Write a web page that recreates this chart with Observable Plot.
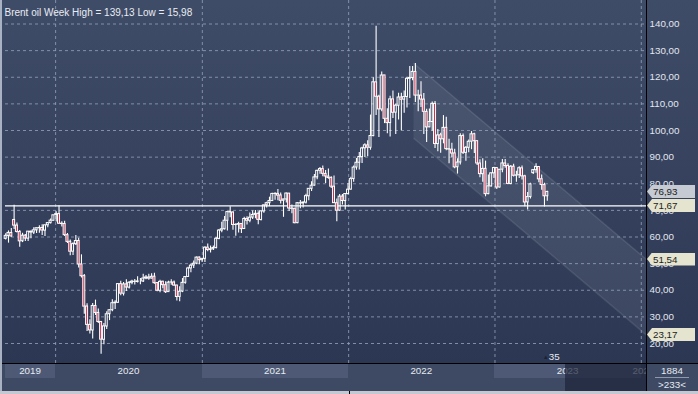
<!DOCTYPE html>
<html>
<head>
<meta charset="utf-8">
<script src="https://cdn.jsdelivr.net/npm/d3@7"></script>
<script src="https://cdn.jsdelivr.net/npm/@observablehq/plot@0.6"></script>
<style>
  html, body { margin:0; padding:0; background:#2b3651; }
  #chart { position:relative; width:698px; height:394px; overflow:hidden;
    background:linear-gradient(to bottom,#3f4c68 0%,#2c3753 92%);
    font-family:"Liberation Sans", Arial, sans-serif; }
  #chart svg { position:absolute; left:0; top:0; }
  .abs { position:absolute; box-sizing:border-box; white-space:nowrap; }
</style>
</head>
<body>
<div id="chart"></div>
<script>
// ---------- data ----------
const title = "Brent oil Week High = 139,13 Low = 15,98";
const firstWeek = "2019-08-26";
const lastWeekEnd = "2023-05-09";

const open = [
59.3,60.4,61.5,66.4,64.3,61.9,58.4,60.5,59.4,62.0,
61.7,62.5,63.3,63.4,62.4,64.4,65.2,66.1,68.2,68.6,
65.0,64.9,60.7,58.2,54.5,57.3,58.5,49.7,45.3,33.9,
27.0,24.9,34.1,31.5,28.1,21.4,26.4,31.0,32.5,35.1,
35.3,42.3,38.7,42.2,41.0,42.8,43.2,43.1,43.3,43.3,
44.4,44.8,44.4,45.1,42.7,39.8,43.2,41.9,39.3,42.9,
42.9,41.8,37.5,39.5,42.8,45.0,48.2,49.3,50.0,52.3,
51.3,51.8,56.0,55.1,55.4,55.9,59.3,62.4,62.9,66.1,
69.4,69.2,64.5,64.6,64.9,63.0,66.8,66.1,67.3,68.3,
68.7,66.4,69.6,71.9,72.7,73.5,76.2,76.2,75.6,73.6,
74.1,76.3,70.7,70.6,65.2,72.7,72.6,72.9,75.3,78.1,
79.3,82.4,84.9,85.5,83.7,82.7,82.2,78.9,72.7,69.9,
75.2,73.5,76.1,77.8,81.8,86.1,87.9,90.0,93.3,94.4,
93.5,97.9,118.1,112.7,107.9,120.7,104.4,102.8,111.7,106.7,
109.3,112.4,111.6,112.6,119.4,119.7,122.0,113.1,113.1,111.6,
107.0,101.2,103.2,110.0,94.9,98.2,96.7,101.0,93.0,92.8,
91.4,86.2,88.0,97.9,91.6,93.5,95.8,98.6,96.0,87.6,
83.6,85.6,76.1,79.0,83.9,85.9,78.6,85.3,87.6,86.7,
79.9,86.4,83.0,83.2,85.8,82.8,73.0,75.0,84.0,85.1,
86.3,81.7,79.5,75.3];

const high = [
61.2,62.3,63.2,71.95,65.3,62.4,61.4,60.9,62.1,62.3,
63.5,63.4,64.2,64.6,64.5,65.4,66.8,68.2,69.5,71.75,
65.7,65.9,61.3,58.9,57.8,60.6,59.5,53.3,45.9,34.9,
28.9,35.0,36.3,33.0,28.2,27.5,31.9,32.7,36.4,36.1,
42.4,43.4,42.9,43.9,43.3,43.8,44.0,45.1,44.4,46.0,
45.5,46.0,46.2,46.4,42.9,43.8,43.4,43.2,43.4,43.9,
43.5,41.8,41.3,44.4,45.2,48.6,49.9,51.0,52.5,52.5,
51.9,56.3,57.4,56.6,56.6,59.8,62.8,65.5,67.7,69.6,
71.38,69.5,65.0,65.5,64.9,67.4,67.6,69.0,69.8,70.0,
69.5,69.9,72.0,73.1,74.96,76.4,76.6,77.8,76.5,74.2,
76.5,76.3,72.0,70.8,72.9,73.7,73.2,76.1,78.2,80.75,
83.5,85.1,86.1,86.7,85.0,85.5,82.6,82.9,74.3,76.0,
76.0,76.3,80.1,82.4,86.7,89.5,91.7,93.7,95.0,96.2,
105.8,119.8,139.13,113.2,122.0,120.7,108.2,112.9,114.8,109.9,
114.0,114.0,114.8,120.0,124.0,124.0,125.2,115.1,118.3,113.9,
108.0,108.1,110.7,110.9,100.4,99.0,105.6,105.0,96.7,95.2,
93.0,89.4,98.8,98.7,94.0,96.4,99.6,99.0,96.1,89.0,
89.4,88.5,83.3,84.1,86.2,86.0,85.4,89.1,89.1,87.5,
86.9,87.3,84.7,86.4,86.7,83.2,76.7,80.2,85.4,87.49,
86.3,83.3,80.2,77.2];

const low = [
58.9,57.7,59.9,62.8,61.5,56.15,57.9,58.3,58.3,59.3,
60.9,61.3,61.4,60.6,60.2,63.5,64.9,66.0,65.6,64.8,
63.8,60.2,57.6,53.0,53.1,56.8,48.4,44.6,31.0,24.5,
23.6,21.65,30.5,27.5,15.98,19.5,25.3,28.6,31.9,32.8,
35.0,37.9,37.8,39.5,40.5,42.1,42.0,42.7,42.1,42.9,
43.9,43.8,44.2,42.3,39.4,39.1,40.6,38.8,39.3,41.9,
41.5,36.0,35.7,39.1,42.3,45.0,46.6,48.2,49.6,49.6,
50.4,50.4,54.5,54.0,54.9,55.5,59.0,61.6,62.6,62.3,
67.2,62.5,60.3,61.5,61.3,62.8,64.5,65.4,66.6,66.9,
64.6,66.0,68.9,70.9,71.4,73.4,73.8,73.6,72.4,67.4,
72.8,69.6,68.7,65.0,65.0,70.6,70.9,72.4,73.6,77.1,
79.2,81.5,83.6,82.6,80.1,81.7,78.2,72.6,65.72,69.6,
72.0,70.1,75.9,77.7,80.6,85.1,85.2,87.6,89.9,90.1,
92.6,97.7,105.6,97.4,107.0,102.6,98.8,97.6,104.5,98.5,
103.9,99.9,106.5,108.5,112.0,118.7,110.5,107.0,108.6,98.5,
95.5,101.0,99.7,93.2,92.0,91.5,95.0,92.4,87.5,89.8,
85.6,83.65,87.0,91.0,88.5,91.6,92.8,91.4,86.9,82.3,
80.6,75.1,75.9,78.8,82.0,77.8,78.4,84.1,85.8,79.6,
79.6,82.5,80.6,82.0,81.4,71.4,70.12,74.3,83.5,83.9,
80.4,77.6,71.28,73.4];

const close = [
60.43,61.54,60.22,64.28,61.91,58.37,60.51,59.42,62.02,61.69,
62.51,63.30,63.39,62.43,64.39,65.22,66.14,68.16,68.60,64.98,
64.85,60.69,58.16,54.47,57.32,58.50,49.67,45.27,33.85,26.98,
24.93,34.11,31.48,28.08,21.44,26.44,30.97,32.50,35.13,35.33,
42.30,38.73,42.19,41.02,42.80,43.24,43.14,43.34,43.30,44.40,
44.80,44.35,45.05,42.66,39.83,43.15,41.92,39.27,42.85,42.93,
41.77,37.46,39.45,42.78,44.96,48.18,49.25,49.97,52.26,51.29,
51.80,55.99,55.10,55.41,55.88,59.34,62.43,62.91,66.13,69.36,
69.22,64.53,64.57,64.86,62.95,66.77,66.11,67.25,68.28,68.71,
66.44,69.63,71.89,72.69,73.51,76.18,76.17,75.55,73.59,74.10,
76.33,70.70,70.59,65.18,72.70,72.61,72.92,75.34,78.09,79.28,
82.39,84.86,85.53,83.72,82.74,82.17,78.89,72.72,69.88,75.15,
73.52,76.14,77.78,81.75,86.06,87.89,90.03,93.27,94.44,93.54,
97.93,118.11,112.67,107.93,120.65,104.39,102.78,111.70,106.65,109.34,
112.39,111.55,112.55,119.43,119.72,122.01,113.12,113.12,111.63,107.02,
101.16,103.20,110.01,94.92,98.15,96.72,100.99,93.02,92.84,91.35,
86.15,87.96,97.92,91.63,93.50,95.77,98.57,95.99,87.62,83.63,
85.57,76.10,79.04,83.92,85.91,78.57,85.28,87.63,86.66,79.94,
86.39,83.00,83.16,85.83,82.78,72.97,74.99,79.77,85.12,86.31,
81.66,79.54,75.30,76.93];

const yTicks = [20,30,40,50,60,70,80,90,100,110,120,130,140];
const yearStarts = ["2019-01-01","2020-01-01","2021-01-01","2022-01-01","2023-01-01","2024-01-01","2025-01-01"];
const yearLabels = ["2019","2020","2021","2022","2023","2024"];
const supportLevel = 71.67;
const lastPrice = 76.93;
const channelDates = ["2022-06-13","2024-01-14"];
const channelUpper = [125.17, 51.54];
const channelLower = [97.0, 23.17];
const xDomain = ["2019-08-29","2024-01-14"];
const yDomain = [12.49, 148.83];
const overlayStart = "2023-06-26";
const counterText = "35";
const infoTop = "1884";
const infoBottom = ">233<";

// ---------- build ----------
const fmt = v => v.toFixed(2).replace(".", ",");
const weeks = d3.utcMonday.range(new Date(firstWeek), new Date(lastWeekEnd)).slice(0, close.length);
const candles = weeks.map((d, i) => ({
  date: d, mid: d3.utcHour.offset(d, 84), end: d3.utcDay.offset(d, 7),
  o: open[i], h: high[i], l: low[i], c: close[i]
}));
const channel = channelDates.map((d, i) => ({date: new Date(d), upper: channelUpper[i], lower: channelLower[i]}));
const gridYears = yearStarts.slice(1, 6).map(d => new Date(d));
const red = "#c62f4d";

const plot = Plot.plot({
  width: 698, height: 363,
  marginLeft: 5, marginRight: 52, marginTop: 0, marginBottom: 0,
  style: {background: "transparent", fontFamily: "Liberation Sans, Arial, sans-serif", fontSize: "9.8px", overflow: "visible"},
  x: {type: "utc", domain: xDomain.map(d => new Date(d)), axis: null},
  y: {domain: yDomain, axis: null},
  marks: [
    Plot.areaY(channel, {x: "date", y1: "lower", y2: "upper", fill: "#ffffff", fillOpacity: 0.075}),
    Plot.line(channel, {x: "date", y: "upper", stroke: "#ffffff", strokeOpacity: 0.1}),
    Plot.line(channel, {x: "date", y: "lower", stroke: "#ffffff", strokeOpacity: 0.1}),
    Plot.gridY(yTicks, {stroke: "#8f9cb5", strokeOpacity: 0.85, strokeDasharray: "3,3"}),
    Plot.gridX(gridYears, {stroke: "#8f9cb5", strokeOpacity: 0.85, strokeDasharray: "3,3"}),
    Plot.ruleY([supportLevel], {stroke: "#ffffff", strokeWidth: 1.3}),
    Plot.ruleX(candles, {x: "mid", y1: "h", y2: d => Math.max(d.o, d.c), stroke: "#ffffff", strokeWidth: 1.1}),
    Plot.ruleX(candles, {x: "mid", y1: d => Math.min(d.o, d.c), y2: "l", stroke: "#ffffff", strokeWidth: 1.1}),
    Plot.rect(candles.filter(d => d.c >= d.o), {x1: "date", x2: "end", y1: "o", y2: "c", fill: "none", stroke: "#ffffff", strokeWidth: 1, insetLeft: 0.4, insetRight: 0.4}),
    Plot.rect(candles.filter(d => d.c < d.o), {x1: "date", x2: "end", y1: "o", y2: "c", fill: red, stroke: "#ffffff", strokeWidth: 1, insetLeft: 0.4, insetRight: 0.4}),
    Plot.axisY(yTicks, {anchor: "right", tickSize: 0, tickPadding: 3, tickFormat: fmt, color: "#e2e7ef", fontSize: 9.8}),
    Plot.text([title], {frameAnchor: "top-left", dx: -1, dy: 8, textAnchor: "start", fill: "#e9edf3", fontSize: 10})
  ]
});

const root = document.getElementById("chart");
root.appendChild(plot);
const xs = plot.scale("x"), ys = plot.scale("y");
const [xL, xR] = xs.range;

function box(left, top, w, h, css, text) {
  const el = document.createElement("div");
  el.className = "abs";
  Object.assign(el.style, {left: left + "px", top: top + "px", width: w + "px", height: h + "px"}, css || {});
  if (text != null) el.textContent = text;
  root.appendChild(el);
  return el;
}

// time bar
const barTop = 363, barH = 28;
box(0, barTop, 698, barH, {background: "#3e4963", borderTop: "1px solid #000"});
const clampX = v => Math.max(xL, Math.min(xR, v));
yearLabels.forEach((lab, i) => {
  const a = clampX(xs.apply(new Date(yearStarts[i])));
  const b = clampX(xs.apply(new Date(yearStarts[i + 1])));
  if (i % 2 === 0 && b > a) box(a, barTop + 1, b - a, 14, {background: "#4e5a75"});
});
const labelLayer = box(0, barTop + 1, xR, 15, {overflow: "hidden"});
yearLabels.forEach((lab, i) => {
  const a = clampX(xs.apply(new Date(yearStarts[i])));
  const b = clampX(xs.apply(new Date(yearStarts[i + 1])));
  const c = (a + b) / 2;
  const el = document.createElement("div");
  el.className = "abs";
  Object.assign(el.style, {left: (c - 30) + "px", top: "1px", width: "60px", textAlign: "center",
    fontSize: "9.8px", lineHeight: "12px", color: "#e6ebf2"});
  el.textContent = lab;
  labelLayer.appendChild(el);
});
const ovX = xs.apply(new Date(overlayStart));
box(ovX, barTop + 1, xR - ovX, barH - 1, {background: "rgba(30,38,60,0.72)"});

// right-bottom info cell
box(xR, barTop + 1, 698 - xR, 13, {textAlign: "center", fontSize: "9.8px", lineHeight: "13px", color: "#e6ebf2"}, infoTop);
box(xR + 9, barTop + 14, 34, 1, {background: "#8e99ad"});
box(xR, barTop + 15, 698 - xR, 13, {textAlign: "center", fontSize: "9.8px", lineHeight: "13px", color: "#e6ebf2"}, infoBottom);

// frame lines and strips
box(xR, 0, 1, 391, {background: "#000"});
box(0, 0, 2, 391, {background: "#a9b2c2"});
box(0, 391, 698, 3, {background: "#c4c9d1"});
box(349, 391, 1, 3, {background: "#000"});

// counter near last candle
const lastMid = candles[candles.length - 1].mid;
const cnt = box(xs.apply(lastMid) - 4, 351, 30, 12, {fontSize: "9.8px", lineHeight: "12px", color: "#e6ebf2"});
cnt.innerHTML = '<span style="color:#1b2233;font-size:6px;vertical-align:1px">&#9650;</span>' + counterText;

// value tags on the right axis
const tags = [[lastPrice, "#c5cad3"], [supportLevel, "#e5e4ce"], [channelUpper[1], "#e5e4ce"], [channelLower[1], "#e5e4ce"]];
tags.forEach(([v, bg]) => {
  box(xR + 1, ys.apply(v) - 6.5, 48, 13, {background: bg,
    clipPath: "polygon(0 50%, 5px 0, 100% 0, 100% 100%, 5px 100%)",
    color: "#1c1c1c", fontSize: "9.8px", lineHeight: "13px", paddingLeft: "6px"}, fmt(v));
});
</script>
</body>
</html>
